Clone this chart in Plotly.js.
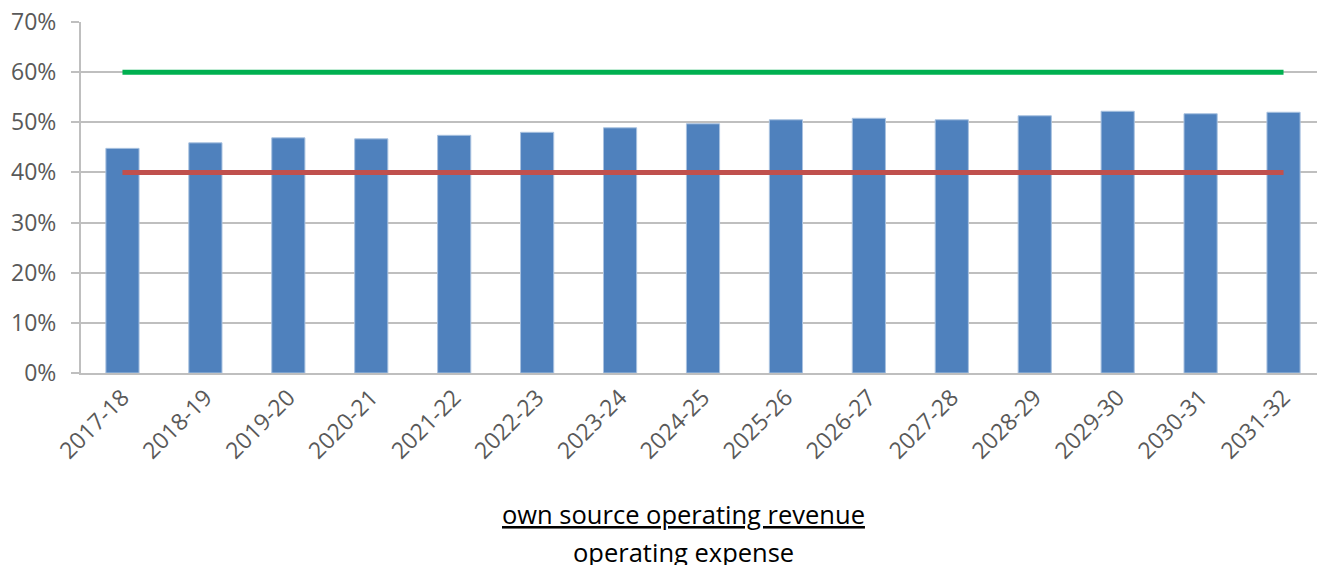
<!DOCTYPE html>
<html>
<head>
<meta charset="utf-8">
<script src="https://cdn.plot.ly/plotly-3.0.1.min.js"></script>
<style>
html,body{margin:0;padding:0;overflow:hidden;background:#fff;}
#chart{width:1325px;height:565px;}
</style>
</head>
<body>
<div id="chart"></div>
<script>
const categories = ["2017-18","2018-19","2019-20","2020-21","2021-22","2022-23","2023-24","2024-25","2025-26","2026-27","2027-28","2028-29","2029-30","2030-31","2031-32"];
const ratioValues = [0.448,0.459,0.469,0.467,0.474,0.480,0.489,0.497,0.505,0.508,0.505,0.513,0.522,0.517,0.520];
const upperBenchmark = [0.6,0.6,0.6,0.6,0.6,0.6,0.6,0.6,0.6,0.6,0.6,0.6,0.6,0.6,0.6];
const lowerBenchmark = [0.4,0.4,0.4,0.4,0.4,0.4,0.4,0.4,0.4,0.4,0.4,0.4,0.4,0.4,0.4];
const yTickVals = [0,0.1,0.2,0.3,0.4,0.5,0.6,0.7];
const yTickText = ["0%","10%","20%","30%","40%","50%","60%","70%"];
const titleNumerator = "own source operating revenue";
const titleDenominator = "operating expense";

const FONT = "Open Sans, sans-serif";
const traces = [
  {type:"bar", x:categories, y:ratioValues, marker:{color:"#4F81BD", line:{color:"#A9C2E0", width:1}}, hoverinfo:"x+y"},
  {type:"scatter", mode:"lines", x:categories, y:upperBenchmark, line:{color:"#00B050", width:5}},
  {type:"scatter", mode:"lines", x:categories, y:lowerBenchmark, line:{color:"#C0504D", width:5}}
];
const layout = {
  width:1325, height:565,
  margin:{l:81, r:0, t:22, b:192},
  showlegend:false,
  paper_bgcolor:"#fff", plot_bgcolor:"#fff",
  bargap:0.6,
  font:{family:FONT, color:"#595959", size:23},
  xaxis:{type:"category", tickangle:-45, showgrid:false, showline:true, linecolor:"#BFBFBF", linewidth:2,
         ticks:"", tickfont:{family:FONT, size:23, color:"#595959"}, automargin:false},
  yaxis:{range:[0,0.7], tickvals:yTickVals, ticktext:yTickText, showgrid:true, gridcolor:"#BFBFBF", gridwidth:2,
         showline:true, linecolor:"#BFBFBF", linewidth:2, ticks:"outside", ticklen:8, tickcolor:"#BFBFBF", tickwidth:2,
         ticklabelstandoff:10,
         zeroline:false, tickfont:{family:FONT, size:23, color:"#595959"}, automargin:false},
  annotations:[
    {xref:"paper", yref:"paper", x:0.4847, y:-0.402, xanchor:"center", yanchor:"middle", showarrow:false,
     text:'<span style="text-decoration:underline">'+titleNumerator+'</span>', font:{family:FONT, size:25.5, color:"#000"}},
    {xref:"paper", yref:"paper", x:0.4847, y:-0.51, xanchor:"center", yanchor:"middle", showarrow:false,
     text:titleDenominator, font:{family:FONT, size:25.5, color:"#000"}}
  ]
};
Plotly.newPlot("chart", traces, layout, {staticPlot:true, displayModeBar:false});
</script>
</body>
</html>
